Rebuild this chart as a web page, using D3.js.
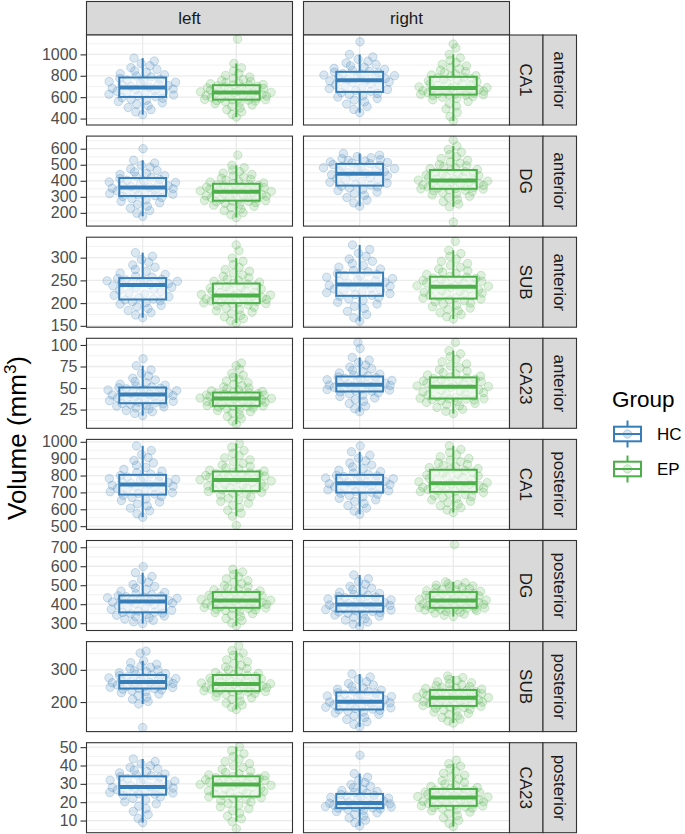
<!DOCTYPE html>
<html><head><meta charset="utf-8">
<script src="https://cdn.jsdelivr.net/npm/d3@7"></script>
<style>body{margin:0;background:#fff}</style>
</head><body><svg id="chart" width="685" height="834"></svg>
<script>
const sides = ["left","right"];
const groups = ["HC","EP"];
const subfields = ["CA1","DG","SUB","CA23","CA1","DG","SUB","CA23"];
const regions = ["anterior","anterior","anterior","anterior","posterior","posterior","posterior","posterior"];
const yTicks = [[400,600,800,1000],[200,300,400,500,600],[150,200,250,300],[25,50,75,100],[500,600,700,800,900,1000],[300,400,500,600,700],[200,300],[10,20,30,40,50]];

// box stats per row: [lower whisker, Q1, median, Q3, upper whisker]
const boxLeftHC = [[437,602,690,784,965],[179,305,358,417,528],[168,208,240,255,311],[18,32.4,42.5,50.6,76],[553,687,747,804,976],[298,357,414,446,566],[194,242,262,284,328],[8.9,24.1,28.3,34.1,43.6]];
const boxLeftEP = [[414,577,643,712,915],[171,276,332,381,497],[156,200,217,243,299],[8,29.3,37.8,44.8,67],[559,708,773,824,990],[286,381,420,464,584],[177,234,256,284,360],[9.4,23.1,29.6,34.1,50.2]];
const boxRightHC = [[455,649,759,837,1000],[242,370,444,505,570],[160,216,241,267,328],[22.6,46,53.7,63.4,85.6],[571,699,755,804,941],[283,361,398,443,554],[123,177,201,230,287],[7.1,16.8,19.5,24.5,35.6]];
const boxRightEP = [[378,624,686,790,1000],[238,350,402,467,616],[165,210,236,258,316],[20.3,37.8,51.4,62.3,93.4],[581,703,755,834,976],[335,381,420,464,518],[135,188,213,237.5,281],[6.7,18,22.6,27.2,41]];

// individual volumes per row
const ptsLeftHC = [
 [437,462,483,503,520,534,548,559,571,581,590,597,606,613,620,627,634,641,648,655,662,669,676,683,694,701,709,716,724,731,739,746,754,761,769,776,789,798,809,820,833,846,860,876,894,914,938,965],
 [179,198,214,229,242,253,263,272,281,289,296,302,307,312,316,320,324,329,333,337,341,345,350,354,360,365,369,374,379,384,389,393,398,403,408,413,420,426,432,439,447,455,464,474,485,497,511,528,600],
 [168,174,179,184,188,192,195,198,201,203,205,207,209,212,214,217,220,222,225,228,230,233,235,238,241,242,243,244,245,246,248,249,250,251,252,254,257,259,263,266,270,274,279,284,290,296,303,311],
 [18,20.5,22.5,24,25.5,27,28,29,30,31,31.6,32.1,32.8,33.6,34.5,35.3,36.2,37,37.8,38.6,39.5,40.3,41.2,42,42.8,43.5,44.2,44.9,45.6,46.3,47,47.7,48.4,49.1,49.8,50.3,51.3,52.2,53.3,54.5,56,57.5,59.5,61.5,64,67,71,76,84],
 [553,573,591,607,620,632,643,652,661,670,677,683,690,694,699,704,709,713,718,723,728,733,737,742,750,754,759,763,768,772,777,782,786,791,795,800,809,817,826,837,848,861,875,890,906,925,949,976],
 [298,307,315,322,328,333,338,342,346,350,353,356,359,364,368,373,378,383,387,392,397,402,406,411,415,418,420,423,426,428,431,434,436,439,442,444,450,455,462,469,477,485,494,504,516,530,546,566,598],
 [121,194,202,209,215,220,225,229,232,235,238,240,241,243,245,246,248,250,252,253,255,257,258,260,261,263,265,267,269,271,273,275,276,278,280,282,283,286,288,291,294,297,300,304,308,312,317,322,328,352,358],
 [8.9,11.2,13.2,15,16.5,17.9,19.1,20.2,21.2,22.1,22.9,23.6,24.3,24.6,25,25.3,25.7,26,26.3,26.7,27,27.3,27.7,28,28.5,29,29.5,30,30.5,31,31.5,32,32.4,32.9,33.4,33.9,34.4,34.9,35.4,36,36.7,37.4,38.2,39,39.9,40.9,42.2,43.6]
];
const ptsLeftEP = [
 [414,440,462,482,499,514,527,539,549,557,563,568,572,575,577,579,583,588,592,596,601,605,610,614,619,623,628,632,637,641,645,650,654,659,663,668,673,677,682,687,691,696,701,705,710,714,719,725,731,738,746,755,765,776,789,804,822,845,875,915,1143],
 [171,188,202,214,224,233,241,248,254,260,265,269,272,274,276,278,282,285,289,292,296,299,303,306,310,313,317,320,324,328,334,337,340,343,346,349,352,355,358,361,364,367,371,374,378,383,387,392,398,404,410,417,424,431,439,448,457,467,482,497,560],
 [156,161,166,170,173,177,180,183,186,189,191,194,196,198,199,200.5,201.5,202.5,203.5,204.5,205.5,207,208,209,210,211,212,213,215,216,218,219,221,223,224,226,228,229,231,233,234,236,238,240,242,244,246,248,250,253,256,259,262,266,270,274,279,285,292,299,315,328],
 [8,11.5,14.5,17,19,21,22.5,24,25,26,27,27.8,28.4,28.9,29.2,29.6,30.2,30.8,31.3,31.9,32.5,33.1,33.7,34.3,34.9,35.5,36.1,36.7,37.2,37.6,38,38.5,38.9,39.4,39.8,40.3,40.8,41.2,41.7,42.1,42.6,43.1,43.5,44,44.5,45.2,46,46.8,47.8,48.8,50,51.3,52.8,54.4,56.2,58.2,60.4,62.6,64.8,67,72,76,79],
 [505,559,577,594,610,624,636,647,657,666,675,683,690,696,701,705,710,714,718,722,726,730,734,738,743,747,751,755,759,763,768,775,778,781,784,788,791,794,797,800,803,806,810,813,816,820,827,832,839,846,854,862,872,882,893,905,918,932,948,968,990],
 [286,301,314,325,335,343,350,356,362,367,371,374,377,379,380,382,385,387,390,392,395,397,400,402,405,407,410,412,415,418,421,424,427,430,433,436,439,441,444,447,450,453,456,459,462,466,470,475,480,486,492,499,507,515,524,534,545,556,570,584],
 [177,184,191,197,203,208,213,217,221,224,227,229,231,232,233,235,236,238,239,240,242,243,245,246,248,249,250,252,253,255,257,259,261,263,265,266,268,270,272,274,276,278,279,281,283,286,289,292,296,300,304,309,314,319,325,331,338,345,352,360,375],
 [5.6,9.4,11,12.5,14,15.3,16.5,17.5,18.4,19.3,20.1,20.8,21.4,22,22.5,22.9,23.3,23.7,24.1,24.6,25,25.4,25.8,26.2,26.6,27.1,27.5,27.9,28.3,28.8,29.2,29.7,30,30.3,30.6,30.9,31.2,31.5,31.9,32.2,32.5,32.8,33.1,33.4,33.7,34,34.4,34.9,35.5,36.2,37,37.9,38.9,39.9,41,42.2,43.5,44.9,46.4,48.2,50.2]
];
const ptsRightHC = [
 [455,485,512,536,556,573,588,601,613,624,634,643,654,663,671,680,689,698,707,716,724,733,742,751,762,768,775,781,788,794,801,807,814,820,827,833,842,850,860,870,881,893,906,920,936,954,976,1000,1118],
 [242,262,280,296,309,320,330,339,347,355,362,367,373,379,385,391,397,403,409,414,420,426,432,438,447,452,457,462,466,471,476,481,486,491,496,501,507,510,514,518,523,527,532,538,544,551,560,570],
 [160,168,175,182,188,193,198,202,206,209,212,215,217,219,221,223,225,227,229,231,233,235,237,239,242,244,246,248,250,252,254,257,259,261,263,265,269,272,275,279,283,287,292,297,303,310,318,328],
 [22.6,26,29,32,34.5,36.5,38.5,40.2,41.8,43.2,44.5,45.5,46.3,47,47.6,48.2,48.9,49.6,50.3,51,51.7,52.3,52.9,53.4,54.1,54.9,55.7,56.5,57.3,58.1,58.9,59.7,60.5,61.3,62.1,62.9,64,65,66.2,67.5,69,70.6,72.4,74.4,76.7,79.3,82.3,85.6,96,103],
 [571,590,607,622,635,646,656,665,674,682,689,695,701,706,710,715,719,724,728,733,737,742,746,751,757,761,765,769,773,777,781,786,790,794,798,801,808,815,823,831,841,851,862,874,887,903,920,941,976],
 [283,295,306,316,324,331,337,343,348,352,356,359,362,366,369,372,375,378,381,384,387,390,393,396,400,404,408,411,415,419,423,427,430,434,438,441,446,451,457,463,470,477,485,494,505,518,534,554],
 [123,131,139,146,152,157,162,166,169,172,174,176,178,180,182,184,186,188,190,192,194,196,198,200,202,204,207,209,212,214,217,219,222,224,227,229,232,234,237,240,244,248,253,258,263,270,278,287],
 [7.1,8.8,10.2,11.4,12.5,13.4,14.2,14.9,15.5,16,16.4,16.7,16.9,17.1,17.4,17.6,17.8,18,18.3,18.5,18.7,18.9,19.1,19.4,19.7,20.1,20.5,21,21.4,21.8,22.2,22.6,23,23.4,23.8,24.2,24.8,25.3,25.8,26.4,27.1,27.9,28.7,29.6,30.7,32,33.6,35.6,45.6]
];
const ptsRightEP = [
 [378,420,458,490,516,540,560,576,589,600,608,614,618,621,623,626,630,634,638,642,646,650,655,659,663,667,671,675,679,684,689,696,703,710,717,724,731,738,745,752,759,766,773,780,787,794,800,808,817,828,839,851,864,877,892,908,925,944,968,1000,1060,1097],
 [143,238,255,270,283,294,304,312,319,326,332,337,341,345,348,350,352,355,358,362,365,368,371,375,378,381,384,388,391,394,398,404,408,412,416,420,424,428,432,436,440,444,448,453,457,463,470,475,481,487,494,501,510,519,528,539,550,563,578,596,616,653],
 [165,170,175,179,183,186,189,192,195,198,200,203,205,207,209,211,212,214,216,217,219,221,222,224,226,227,229,231,232,234,237,238,240,241,242,244,245,247,248,250,251,252,254,255,257,259,261,263,265,268,271,275,279,283,287,292,297,303,309,316,336],
 [20.3,23,25.4,27.5,29.3,30.9,32.2,33.4,34.4,35.3,36,36.6,37.1,37.4,37.7,38.2,39.1,40,40.9,41.8,42.7,43.6,44.5,45.4,46.3,47.2,48.1,49,49.9,50.8,51.8,52.5,53.2,53.9,54.6,55.3,56,56.8,57.5,58.2,58.9,59.6,60.3,61,61.8,62.9,63.9,65.1,66.4,67.9,69.6,71.4,73.4,75.6,78,80.6,83.4,86.5,89.8,93.4,103],
 [581,596,609,621,631,640,648,656,663,670,676,682,688,694,700,705,708,711,714,717,721,724,727,730,734,737,740,743,746,750,758,763,768,773,778,783,788,793,798,803,809,814,819,824,830,837,841,847,852,859,866,874,882,891,901,912,924,937,955,976],
 [335,342,348,353,358,362,366,369,372,374,376,377,378,379,380,382,385,387,390,392,395,397,400,402,405,407,410,412,415,418,421,424,427,430,433,436,439,441,444,447,450,453,456,459,462,465,468,471,474,477,481,484,488,492,496,500,504,508,513,518,714],
 [135,141,147,152,157,161,165,169,172,175,178,181,183,185,187,189,190,192,194,195,197,198,200,202,203,205,207,208,210,212,214,215,217,218,220,221,223,224,226,228,229,231,232,234,236,238,240,242,244,246,248,251,254,257,260,263,267,271,276,281],
 [6.7,8.5,10.1,11.5,12.7,13.7,14.6,15.3,15.9,16.4,16.8,17.2,17.5,17.7,17.9,18.1,18.4,18.7,19,19.3,19.6,19.9,20.2,20.5,20.8,21.1,21.4,21.7,22,22.3,22.8,23.1,23.4,23.7,24,24.3,24.6,24.9,25.2,25.5,25.8,26.1,26.4,26.7,27,27.5,28,28.6,29.3,30,30.8,31.7,32.6,33.6,34.7,35.8,37,38.3,39.6,41,42.9]
];

const FONT = '"Liberation Sans", Arial, Helvetica, sans-serif';
const colors = {HC:"#377EB8", EP:"#4DAF4A"};
const boxes = {left:{HC:boxLeftHC, EP:boxLeftEP}, right:{HC:boxRightHC, EP:boxRightEP}};
const pts = {left:{HC:ptsLeftHC, EP:ptsLeftEP}, right:{HC:ptsRightHC, EP:ptsRightEP}};

const panelX = [86.5, 303.5], panelW = 206, top0 = 35, pitch = 101.1, panelH = 90;
const stripW = 33.5, stripH = 33.5;
const svg = d3.select("#chart").style("font-family", FONT);

const xScale = d3.scalePoint().domain(groups).range([0, panelW]).padding(0.6);
const step = xScale.step();
const boxW = step * 0.5;

function vdc(i){ let v = 0, f = 0.5; while (i > 0) { v += f * (i & 1); i >>= 1; f /= 2; } return v; }
function quasi(values){
  const s = values.slice().sort(d3.ascending);
  const n = s.length, sd = d3.deviation(s);
  const iqr = d3.quantile(s, .75) - d3.quantile(s, .25);
  const bw = 0.9 * Math.min(sd, iqr / 1.34) * Math.pow(n, -0.2);
  const dens = v => d3.sum(s, x => Math.exp(-0.5 * ((v - x) / bw) ** 2));
  const ds = s.map(dens), mx = d3.max(ds);
  return s.map((v, i) => ({v, off: (vdc(i + 1) * 2 - 1) * Math.pow(ds[i] / mx, 0.85) * 0.4}));
}

// column strips
sides.forEach((s, c) => {
  svg.append("rect").attr("x", panelX[c]).attr("y", top0 - stripH).attr("width", panelW).attr("height", stripH)
    .attr("fill", "#D9D9D9").attr("stroke", "#333").attr("stroke-width", 1.1);
  svg.append("text").attr("x", panelX[c] + panelW / 2).attr("y", top0 - stripH / 2).attr("dy", "0.35em")
    .attr("text-anchor", "middle").attr("font-size", 17).attr("fill", "#1A1A1A").text(s);
});

for (let r = 0; r < subfields.length; r++) {
  const y0 = top0 + r * pitch;
  const all = [];
  sides.forEach(s => groups.forEach(g => all.push(...pts[s][g][r])));
  const ext = d3.extent(all), pad = (ext[1] - ext[0]) * 0.05;
  const dom = [ext[0] - pad, ext[1] + pad];
  const y = d3.scaleLinear().domain(dom).range([y0 + panelH, y0]);
  const tk = yTicks[r], st = tk[1] - tk[0];
  const minor = [tk[0] - st / 2, ...tk.map(t => t + st / 2)].filter(v => v > dom[0] && v < dom[1]);

  sides.forEach((s, c) => {
    const g = svg.append("g").attr("transform", `translate(${panelX[c]},0)`);
    g.append("rect").attr("x", 0).attr("y", y0).attr("width", panelW).attr("height", panelH).attr("fill", "#fff");
    g.selectAll(".mn").data(minor).join("line").attr("x1", 0).attr("x2", panelW)
      .attr("y1", d => y(d)).attr("y2", d => y(d)).attr("stroke", "#EBEBEB").attr("stroke-width", 0.7);
    g.selectAll(".mj").data(tk).join("line").attr("x1", 0).attr("x2", panelW)
      .attr("y1", d => y(d)).attr("y2", d => y(d)).attr("stroke", "#EBEBEB").attr("stroke-width", 1.3);
    g.selectAll(".vx").data(groups).join("line").attr("x1", d => xScale(d)).attr("x2", d => xScale(d))
      .attr("y1", y0).attr("y2", y0 + panelH).attr("stroke", "#EBEBEB").attr("stroke-width", 1.3);

    groups.forEach(grp => {
      const col = colors[grp];
      const cx = xScale(grp);
      const q = quasi(pts[s][grp][r]);
      g.append("g").selectAll("circle").data(q).join("circle")
        .attr("cx", d => cx + d.off * step).attr("cy", d => y(d.v)).attr("r", 4.2)
        .attr("fill", col).attr("fill-opacity", 0.18)
        .attr("stroke", col).attr("stroke-opacity", 0.28).attr("stroke-width", 0.9);
      const b = boxes[s][grp][r];
      g.append("line").attr("x1", cx).attr("x2", cx).attr("y1", y(b[0])).attr("y2", y(b[1]))
        .attr("stroke", col).attr("stroke-width", 2);
      g.append("line").attr("x1", cx).attr("x2", cx).attr("y1", y(b[3])).attr("y2", y(b[4]))
        .attr("stroke", col).attr("stroke-width", 2);
      g.append("rect").attr("x", cx - boxW / 2).attr("width", boxW)
        .attr("y", y(b[3])).attr("height", y(b[1]) - y(b[3]))
        .attr("fill", "#fff").attr("fill-opacity", 0.5).attr("stroke", col).attr("stroke-width", 2);
      g.append("line").attr("x1", cx - boxW / 2).attr("x2", cx + boxW / 2).attr("y1", y(b[2])).attr("y2", y(b[2]))
        .attr("stroke", col).attr("stroke-width", 4);
    });

    g.append("rect").attr("x", 0).attr("y", y0).attr("width", panelW).attr("height", panelH)
      .attr("fill", "none").attr("stroke", "#333").attr("stroke-width", 1.1);
  });

  // y axis
  const ax = svg.append("g").attr("transform", `translate(${panelX[0]},0)`)
    .call(d3.axisLeft(y).tickValues(tk).tickFormat(d3.format("d")).tickSize(6).tickPadding(3));
  ax.select(".domain").remove();
  ax.selectAll(".tick line").attr("stroke", "#333").attr("stroke-width", 1.1);
  ax.selectAll(".tick text").attr("fill", "#4D4D4D").attr("font-size", 16).attr("font-family", FONT);

  // row strips
  const sx = panelX[1] + panelW;
  [subfields[r], regions[r]].forEach((lab, k) => {
    const x = sx + k * stripW;
    svg.append("rect").attr("x", x).attr("y", y0).attr("width", stripW).attr("height", panelH)
      .attr("fill", "#D9D9D9").attr("stroke", "#333").attr("stroke-width", 1.1);
    svg.append("text").attr("transform", `translate(${x + stripW / 2},${y0 + panelH / 2}) rotate(90)`)
      .attr("dy", "0.35em").attr("text-anchor", "middle").attr("font-size", 17).attr("fill", "#1A1A1A").text(lab);
  });
}

// y title
const yt = svg.append("text").attr("transform", `translate(25.5,438) rotate(-90)`).attr("text-anchor", "middle")
  .attr("font-size", 26).attr("fill", "#000");
yt.append("tspan").text("Volume (mm");
yt.append("tspan").attr("dy", -10).attr("font-size", 17).text("3");
yt.append("tspan").attr("dy", 10).attr("font-size", 26).text(")");

// legend
svg.append("text").attr("x", 612).attr("y", 407).attr("font-size", 22.5).attr("fill", "#000").text("Group");
groups.forEach((grp, i) => {
  const col = colors[grp];
  const cy = 434 + i * 35, cx = 627.5;
  const lg = svg.append("g");
  lg.append("line").attr("x1", cx).attr("x2", cx).attr("y1", cy - 13.5).attr("y2", cy + 13.5).attr("stroke", col).attr("stroke-width", 2);
  lg.append("rect").attr("x", cx - 13.5).attr("y", cy - 7.3).attr("width", 27).attr("height", 14.6)
    .attr("fill", "#fff").attr("stroke", col).attr("stroke-width", 2);
  lg.append("circle").attr("cx", cx).attr("cy", cy).attr("r", 4.2).attr("fill", col).attr("fill-opacity", 0.2)
    .attr("stroke", col).attr("stroke-opacity", 0.3);
  lg.append("line").attr("x1", cx - 13.5).attr("x2", cx + 13.5).attr("y1", cy).attr("y2", cy).attr("stroke", col).attr("stroke-width", 2);
  svg.append("text").attr("x", 657).attr("y", cy + 6).attr("font-size", 17).attr("fill", "#000").text(grp);
});
</script></body></html>
